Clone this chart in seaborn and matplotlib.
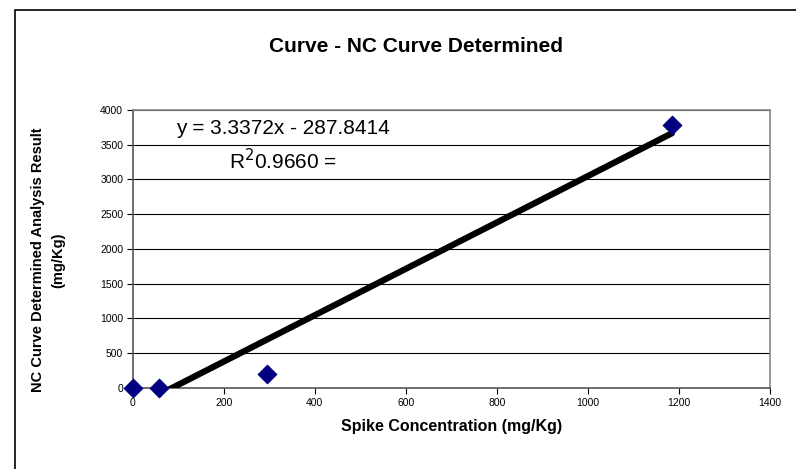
import numpy as np
import pandas as pd
import matplotlib
matplotlib.use('Agg')
import matplotlib.pyplot as plt
import matplotlib.patches as patches
import seaborn as sns

# dados
spike = [0, 58, 295, 1185]
resultado = [0, 0, 200, 3785]
equacao = 'y = 3.3372x - 287.8414'
r2_texto = 'R$^2$0.9660 ='
x_ticks = [0, 200, 400, 600, 800, 1000, 1200, 1400]
y_ticks = [0, 500, 1000, 1500, 2000, 2500, 3000, 3500, 4000]

sns.set_style('white')
plt.rcParams['font.family'] = ['Liberation Sans', 'DejaVu Sans']
plt.rcParams['text.color'] = 'black'
plt.rcParams['axes.labelcolor'] = 'black'

df = pd.DataFrame({'spike': spike, 'resultado': resultado})

# linha de tendência linear
coef = np.polyfit(spike, resultado, 1)
x_linha = np.array([min(spike), max(spike)])
linha = pd.DataFrame({'x': x_linha, 'y': np.polyval(coef, x_linha)})

fig = plt.figure(figsize=(7.96, 4.69), dpi=100)
ax = fig.add_axes([0.167, 0.1727, 0.8, 0.5928])

ax.grid(axis='y', color='black', linewidth=0.8)
ax.set_axisbelow(True)

sns.lineplot(data=linha, x='x', y='y', ax=ax, color='black', linewidth=4.5, zorder=3)
sns.scatterplot(data=df, x='spike', y='resultado', ax=ax, marker='D', s=90,
                color='#000080', edgecolor='#000080', zorder=4, clip_on=False)

ax.set_xlim(0, 1400)
ax.set_ylim(0, 4000)
ax.set_xticks(x_ticks)
ax.set_yticks(y_ticks)
ax.tick_params(axis='both', labelsize=7.5, direction='out', length=4, width=0.8,
               colors='black', pad=3)
ax.tick_params(left=True, bottom=True)

for lado in ['top', 'right']:
    ax.spines[lado].set_color('#888888')
    ax.spines[lado].set_linewidth(1.2)
for lado in ['left', 'bottom']:
    ax.spines[lado].set_color('#555555')
    ax.spines[lado].set_linewidth(1.2)

ax.set_xlabel('Spike Concentration (mg/Kg)', fontsize=11.5, fontweight='bold', labelpad=8)
ax.set_ylabel('NC Curve Determined Analysis Result\n(mg/Kg)', fontsize=10.5,
              fontweight='bold', linespacing=1.5)
ax.yaxis.set_label_coords(-0.107, 0.46)

ax.text(95, 3730, equacao, fontsize=15, va='center', ha='left')
ax.text(212, 3270, r2_texto, fontsize=15, va='center', ha='left')

fig.text(0.522, 0.9, 'Curve - NC Curve Determined', fontsize=15,
         fontweight='bold', ha='center', va='center')

# moldura externa do gráfico
moldura = patches.Rectangle((15 / 796, -0.1), 1.0, (469 - 10) / 469 + 0.1,
                            transform=fig.transFigure, fill=False,
                            edgecolor='black', linewidth=1.2, clip_on=False)
fig.patches.append(moldura)

fig.savefig('out.png', dpi=100)
plt.close()
